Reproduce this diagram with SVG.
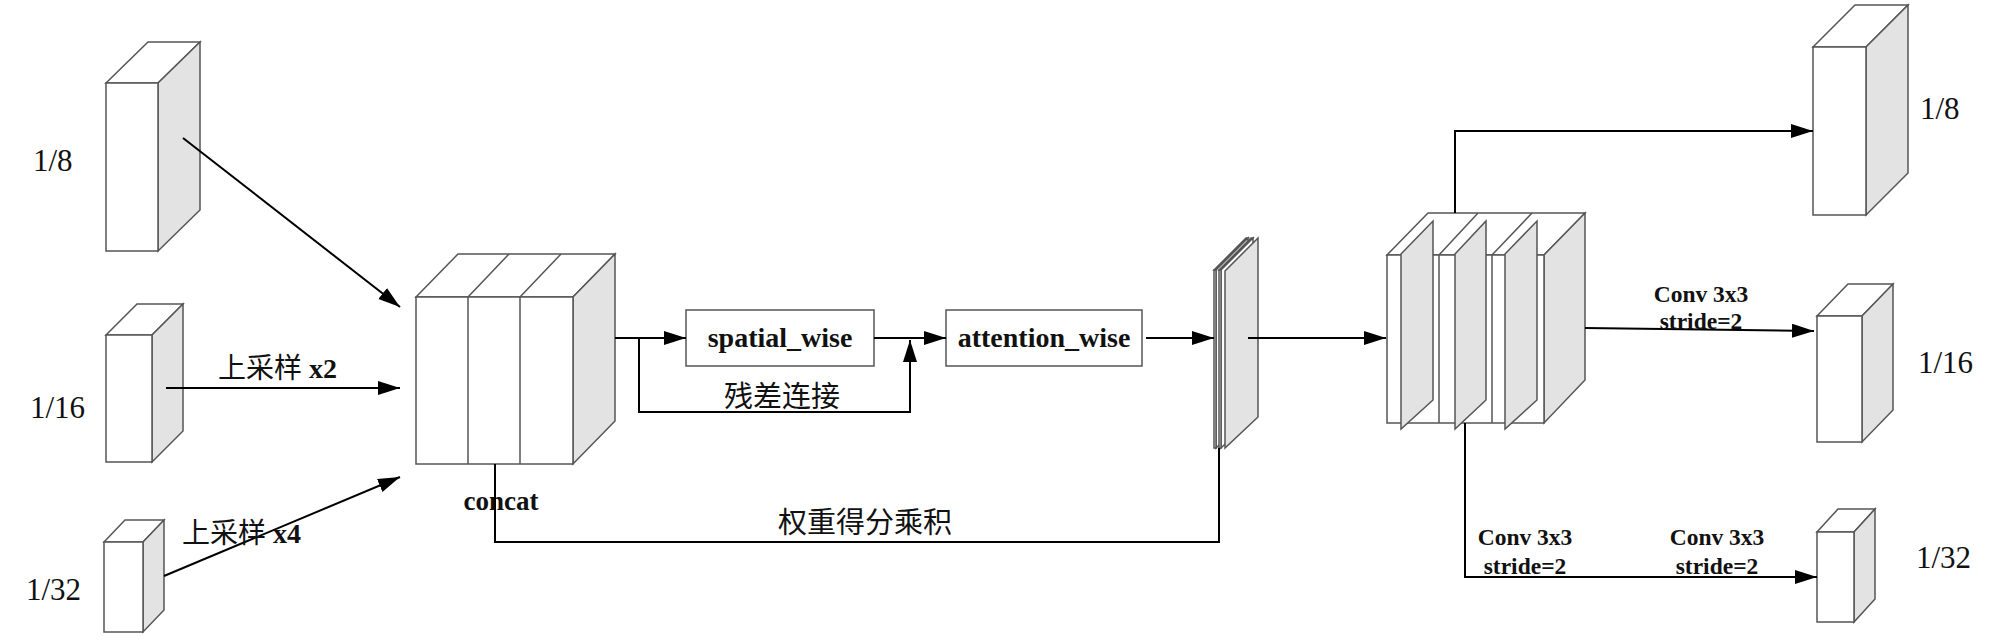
<svg xmlns="http://www.w3.org/2000/svg" width="2000" height="643" viewBox="0 0 2000 643">
<style>
.f{fill:#fff;stroke:#555;stroke-width:1.5}
.s{fill:#e3e3e3;stroke:#555;stroke-width:1.5}
.ln{fill:none;stroke:#000;stroke-width:2}
.lbl{font-family:"Liberation Serif","Noto Sans CJK SC",serif;font-size:31px;fill:#111}
.b{font-family:"Liberation Serif",serif;font-weight:bold;fill:#111}
.cj{font-family:"Liberation Serif","Noto Sans CJK SC",serif;fill:#111}
</style>
<defs>
<marker id="ah" markerUnits="userSpaceOnUse" markerWidth="24" markerHeight="16" refX="22" refY="7" orient="auto">
<path d="M0,0 L22,7 L0,14 z" fill="#000"/>
</marker>
</defs>

<g id="in8">
<polygon class="f" points="106,83 148,42 200,42 158,83"/>
<polygon class="s" points="158,83 200,42 200,210 158,251"/>
<rect class="f" x="106" y="83" width="52" height="168"/>
<text class="lbl" x="33" y="171">1/8</text>
</g>
<g id="in16">
<polygon class="f" points="106,335 137,304 183,304 152,335"/>
<polygon class="s" points="152,335 183,304 183,431 152,462"/>
<rect class="f" x="106" y="335" width="46" height="127"/>
<text class="lbl" x="30" y="418">1/16</text>
</g>
<g id="in32">
<polygon class="f" points="104,542 125,520 164,520 143,542"/>
<polygon class="s" points="143,542 164,520 164,610 143,632"/>
<rect class="f" x="104" y="542" width="39" height="90"/>
<text class="lbl" x="26" y="600">1/32</text>
</g>

<g id="concat">
<polygon class="f" points="416,297 458,254 615,254 573,297"/>
<polygon class="s" points="573,297 615,254 615,421 573,464"/>
<rect class="f" x="416" y="297" width="157" height="167"/>
<path d="M468,297 L468,464 M520,297 L520,464 M468,297 L509,254 M520,297 L561,254" fill="none" stroke="#555" stroke-width="1.5"/>
<text class="b" x="501" y="510" font-size="27" text-anchor="middle">concat</text>
</g>

<g id="spatial">
<rect class="f" x="686" y="310" width="188" height="56"/>
<text class="b" x="780" y="347" font-size="28" text-anchor="middle">spatial_wise</text>
</g>
<g id="attention">
<rect class="f" x="946" y="310" width="196" height="56"/>
<text class="b" x="1044" y="347" font-size="28" text-anchor="middle">attention_wise</text>
</g>

<g id="weights">
<polygon class="f" points="1214,270 1246,238 1248,238 1216,270"/>
<polygon class="f" points="1216,270 1248,238 1248,417 1216,448"/>
<rect class="f" x="1214" y="270" width="2" height="178"/>
<polygon class="f" points="1219,270 1251,238 1253,238 1221,270"/>
<polygon class="f" points="1221,270 1253,238 1253,417 1221,448"/>
<rect class="f" x="1219" y="270" width="2" height="178"/>
<polygon class="s" points="1225,271 1258,238 1258,417 1225,448"/>
</g>

<g id="fused">
<polygon class="f" points="1387,255 1428,213 1585,213 1544,255"/>
<polygon class="s" points="1544,255 1585,213 1585,380 1544,423"/>
<rect class="f" x="1387" y="255" width="157" height="168"/>
<path d="M1439,255 L1439,423 M1492,255 L1492,423 M1439,255 L1478,213 M1492,255 L1532,213" fill="none" stroke="#555" stroke-width="1.5"/>
<polygon class="s" points="1401,254 1433,221 1433,400 1401,429"/>
<polygon class="s" points="1455,254 1486,221 1486,400 1455,429"/>
<polygon class="s" points="1505,254 1537,221 1537,400 1505,429"/>
</g>

<g id="out8">
<polygon class="f" points="1813,47 1855,5 1908,5 1866,47"/>
<polygon class="s" points="1866,47 1908,5 1908,173 1866,215"/>
<rect class="f" x="1813" y="47" width="53" height="168"/>
<text class="lbl" x="1920" y="119">1/8</text>
</g>
<g id="out16">
<polygon class="f" points="1817,316 1848,284 1893,284 1862,316"/>
<polygon class="s" points="1862,316 1893,284 1893,410 1862,442"/>
<rect class="f" x="1817" y="316" width="45" height="126"/>
<text class="lbl" x="1918" y="373">1/16</text>
</g>
<g id="out32">
<polygon class="f" points="1817,532 1838,509 1875,509 1854,532"/>
<polygon class="s" points="1854,532 1875,509 1875,599 1854,622"/>
<rect class="f" x="1817" y="532" width="37" height="90"/>
<text class="lbl" x="1916" y="568">1/32</text>
</g>

<g id="connectors">
<line class="ln" x1="183" y1="138" x2="400" y2="307" marker-end="url(#ah)"/>
<line class="ln" x1="166" y1="388" x2="400" y2="388" marker-end="url(#ah)"/>
<line class="ln" x1="164" y1="576" x2="400" y2="477" marker-end="url(#ah)"/>
<line class="ln" x1="615" y1="338" x2="686" y2="338" marker-end="url(#ah)"/>
<polyline class="ln" points="639,338 639,412 910,412 910,340" marker-end="url(#ah)"/>
<line class="ln" x1="874" y1="338" x2="946" y2="338" marker-end="url(#ah)"/>
<line class="ln" x1="1146" y1="338" x2="1214" y2="338" marker-end="url(#ah)"/>
<line class="ln" x1="1248" y1="338" x2="1386" y2="338" marker-end="url(#ah)"/>
<polyline class="ln" points="495,464 495,542 1219,542 1219,448"/>
<polyline class="ln" points="1455,213 1455,131 1813,131" marker-end="url(#ah)"/>
<line class="ln" x1="1585" y1="328" x2="1814" y2="331" marker-end="url(#ah)"/>
<polyline class="ln" points="1465,423 1465,577 1817,577" marker-end="url(#ah)"/>
</g>

<g id="labels">
<text class="cj" x="218" y="378" font-size="28">上采样 <tspan class="b">x2</tspan></text>
<text class="cj" x="182" y="543" font-size="28">上采样 <tspan class="b">x4</tspan></text>
<text class="cj" x="782" y="407" font-size="29" text-anchor="middle">残差连接</text>
<text class="cj" x="865" y="533" font-size="29" text-anchor="middle">权重得分乘积</text>
<text class="b" x="1701" y="302" font-size="23.5" text-anchor="middle">Conv 3x3</text>
<text class="b" x="1701" y="329" font-size="23.5" text-anchor="middle">stride=2</text>
<text class="b" x="1525" y="545" font-size="23.5" text-anchor="middle">Conv 3x3</text>
<text class="b" x="1525" y="574" font-size="23.5" text-anchor="middle">stride=2</text>
<text class="b" x="1717" y="545" font-size="23.5" text-anchor="middle">Conv 3x3</text>
<text class="b" x="1717" y="574" font-size="23.5" text-anchor="middle">stride=2</text>
</g>
</svg>
